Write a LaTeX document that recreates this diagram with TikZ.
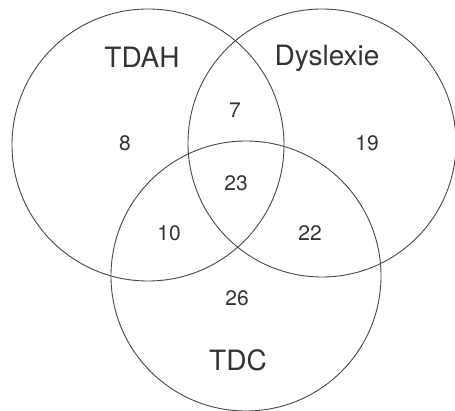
\documentclass[tikz,border=0pt]{standalone}
\usepackage{fontspec}
\setmainfont{TeX Gyre Heros}
\definecolor{ink}{HTML}{333333}
\begin{document}
\begin{tikzpicture}[x=1pt,y=-1pt,
  ring/.style={draw=ink!90,line width=0.9pt},
  setlabel/.style={text=ink,font=\fontsize{28}{30}\selectfont,inner sep=0pt},
  count/.style={text=ink,font=\fontsize{21}{24}\selectfont,inner sep=0pt}]
\useasboundingbox (0,0) rectangle (455,411);
\draw[ring] (148,145) circle[radius=136];
\draw[ring] (322,143) circle[radius=134];
\draw[ring] (246,276) circle[radius=135];
\node[setlabel] (tdah) at (142,57) {TDAH};
\node[setlabel] (dys) at (327,58) {Dyslexie};
\node[setlabel] (tdc) at (238,360) {TDC};
\node[count] (n7) at (235,110) {7};
\node[count] (n8) at (125,143) {8};
\node[count] (n19) at (367,143) {19};
\node[count] (n23) at (236,183) {23};
\node[count] (n10) at (169,233) {10};
\node[count] (n22) at (310,233) {22};
\node[count] (n26) at (237,298) {26};
\end{tikzpicture}
\end{document}
